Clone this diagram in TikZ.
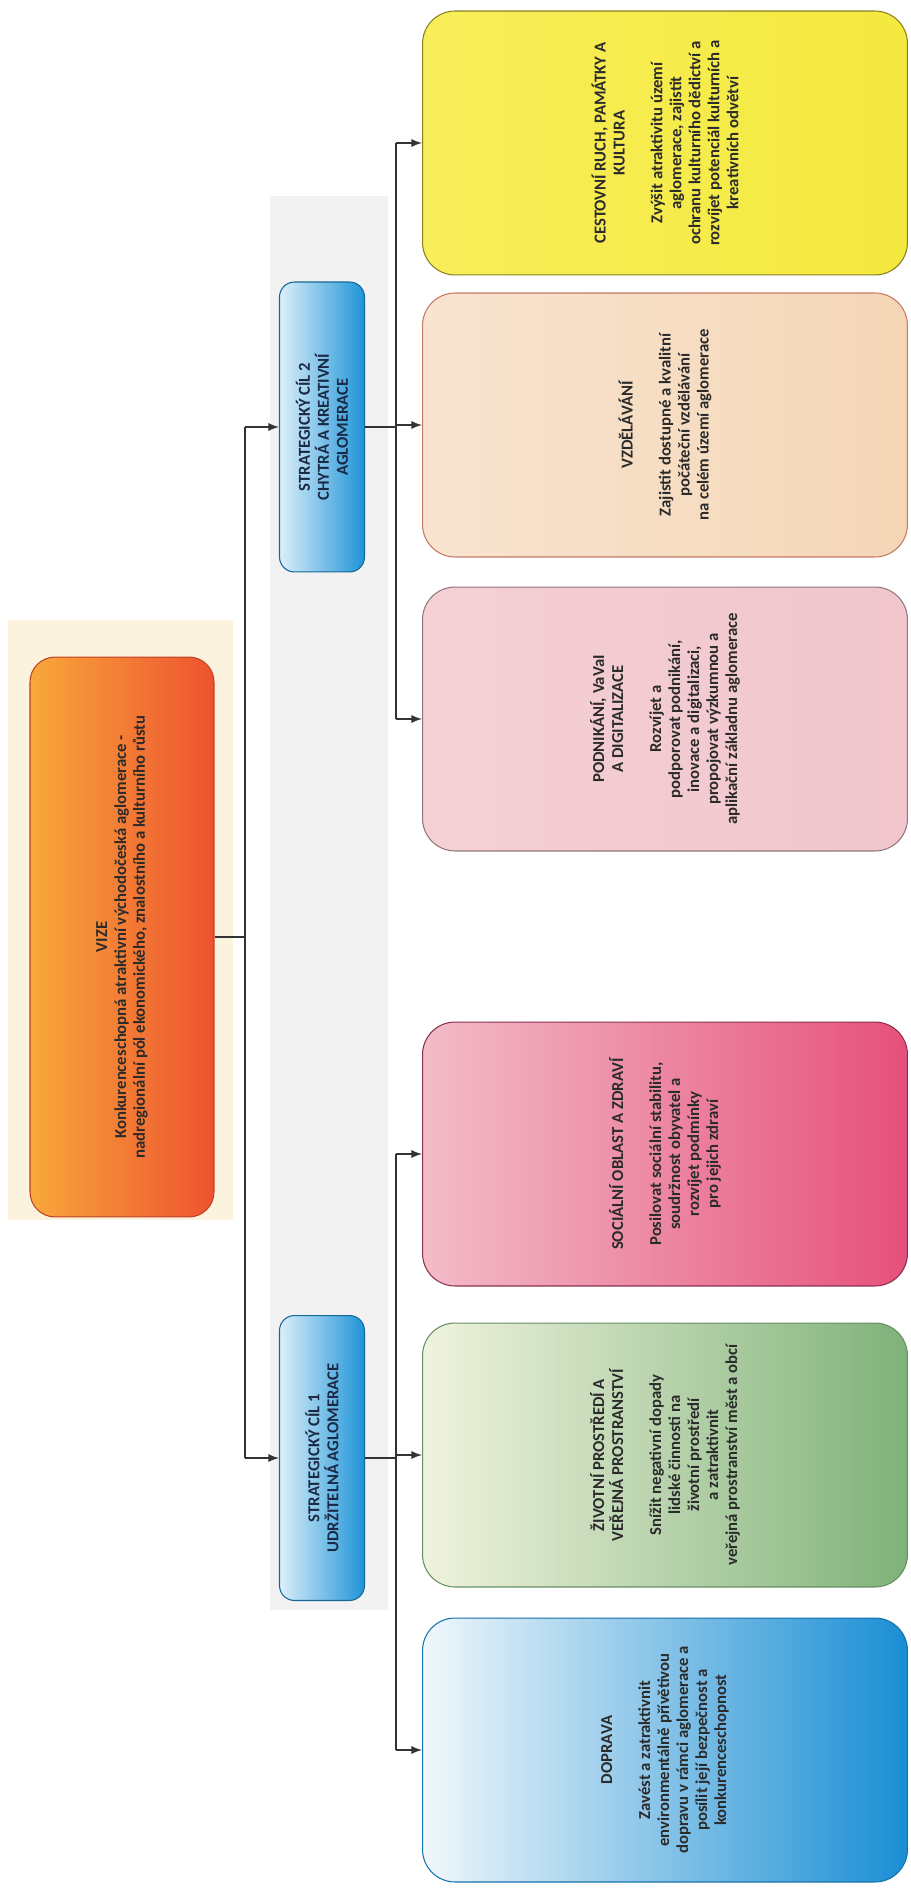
\documentclass[tikz,border=0pt]{standalone}
\usepackage{fontspec}
\setmainfont{Carlito}
\definecolor{txt}{HTML}{2B2B2B}
\definecolor{navy}{HTML}{1B2A44}
\definecolor{cream}{HTML}{FBF3DE}
\definecolor{vizeL}{HTML}{F8A83A}
\definecolor{vizeR}{HTML}{EE5230}
\definecolor{cilL}{HTML}{DCEFF9}
\definecolor{cilR}{HTML}{1E94D8}
\definecolor{yelL}{HTML}{F7EE5A}
\definecolor{yelR}{HTML}{F4E93E}
\definecolor{peaL}{HTML}{F8E4D0}
\definecolor{peaR}{HTML}{F4D6B6}
\definecolor{pinL}{HTML}{F4D0D4}
\definecolor{pinR}{HTML}{F1C6CD}
\definecolor{socL}{HTML}{F3BCC8}
\definecolor{socR}{HTML}{E6507B}
\definecolor{zivL}{HTML}{F0F3DE}
\definecolor{zivR}{HTML}{7FB27A}
\definecolor{dopL}{HTML}{F1F7FB}
\definecolor{dopR}{HTML}{1A8ED4}
\tikzset{
	box/.style={draw, rounded corners=0.65cm, rotate=90, align=center, line width=0.6pt,
		minimum width=5.28cm, minimum height=9.7cm, inner sep=2pt,
		font=\fontsize{9.5}{10.8}\selectfont\bfseries, text=txt},
	cil/.style={box, rounded corners=0.3cm, draw=cilR!70!black, left color=cilL, right color=cilR,
		minimum height=1.7cm, text=navy},
	line/.style={draw=black!80, line width=1.1pt},
	arr/.style={line, -latex},
}
\begin{document}
\begin{tikzpicture}[x=0.02cm,y=-0.02cm]
	\useasboundingbox (0,0) rectangle (910,1888);
	% backgrounds
	\fill[cream] (8,620) rectangle (233,1220);
	\fill[black!5] (270,196) rectangle (388,1610);
	% vize
	\node[box, rounded corners=0.5cm, draw=vizeR!80!black, left color=vizeL, right color=vizeR,
		minimum width=11.2cm, minimum height=3.68cm](vize) at (122,937)
		{VIZE\\Konkurenceschopná atraktivní východočeská aglomerace -\\nadregionální pól ekonomického, znalostního a kulturního růstu};
	% strategicke cile
	\node[cil, minimum width=5.8cm](s2) at (322,427) {STRATEGICKÝ CÍL 2\\CHYTRÁ A KREATIVNÍ\\AGLOMERACE};
	\node[cil, minimum width=5.7cm](s1) at (322,1458) {STRATEGICKÝ CÍL 1\\UDRŽITELNÁ AGLOMERACE};
	% oblasti
	\node[box, draw=yelR!55!black, left color=yelL, right color=yelR](cestovni) at (665,143)
		{CESTOVNÍ RUCH, PAMÁTKY A\\KULTURA\\[10.8pt]Zvýšit atraktivitu území\\aglomerace, zajistit\\ochranu kulturního dědictví a\\rozvíjet potenciál kulturních a\\kreativních odvětví};
	\node[box, draw=peaR!70!red!80!black, left color=peaL, right color=peaR](vzdelavani) at (665,425)
		{VZDĚLÁVÁNÍ\\[10.8pt]Zajistit dostupné a kvalitní\\počáteční vzdělávání\\na celém území aglomerace};
	\node[box, draw=pinR!60!black, left color=pinL, right color=pinR](podnikani) at (665,719)
		{PODNIKÁNÍ, VaVaI\\A DIGITALIZACE\\[10.8pt]Rozvíjet a\\podporovat podnikání,\\inovace a digitalizaci,\\propojovat výzkumnou a\\aplikační základnu aglomerace};
	\node[box, draw=socR!60!black, left color=socL, right color=socR](socialni) at (665,1154)
		{SOCIÁLNÍ OBLAST A ZDRAVÍ\\[10.8pt]Posilovat sociální stabilitu,\\soudržnost obyvatel a\\rozvíjet podmínky\\pro jejich zdraví};
	\node[box, draw=zivR!80!black, left color=zivL, right color=zivR](zivotni) at (665,1455)
		{ŽIVOTNÍ PROSTŘEDÍ A\\VEŘEJNÁ PROSTRANSTVÍ\\[10.8pt]Snížit negativní dopady\\lidské činnosti na\\životní prostředí\\a zatraktivnit\\veřejná prostranství měst a obcí};
	\node[box, draw=dopR!80!black, left color=dopL, right color=dopR](doprava) at (665,1750)
		{DOPRAVA\\[10.8pt]Zavést a zatraktivnit\\environmentálně přívětivou\\dopravu v rámci aglomerace a\\posílit její bezpečnost a\\konkurenceschopnost};
	% spojnice
	\coordinate (busA) at (245,0);
	\coordinate (busB) at (396,0);
	\draw[line] (vize.south) -- (vize.south -| busA);
	\draw[line] (busA |- s2.north) -- (busA |- s1.north);
	\draw[arr] (busA |- s2.north) -- (s2.north);
	\draw[arr] (busA |- s1.north) -- (s1.north);
	\draw[line] (s2.south) -- (s2.south -| busB);
	\draw[line] (busB |- cestovni.north) -- (busB |- podnikani.north);
	\draw[line] (s1.south) -- (s1.south -| busB);
	\draw[line] (busB |- socialni.north) -- (busB |- doprava.north);
	\foreach \n in {cestovni,vzdelavani,podnikani,socialni,zivotni,doprava}
		\draw[arr] (busB |- \n.north) -- (\n.north);
\end{tikzpicture}
\end{document}
